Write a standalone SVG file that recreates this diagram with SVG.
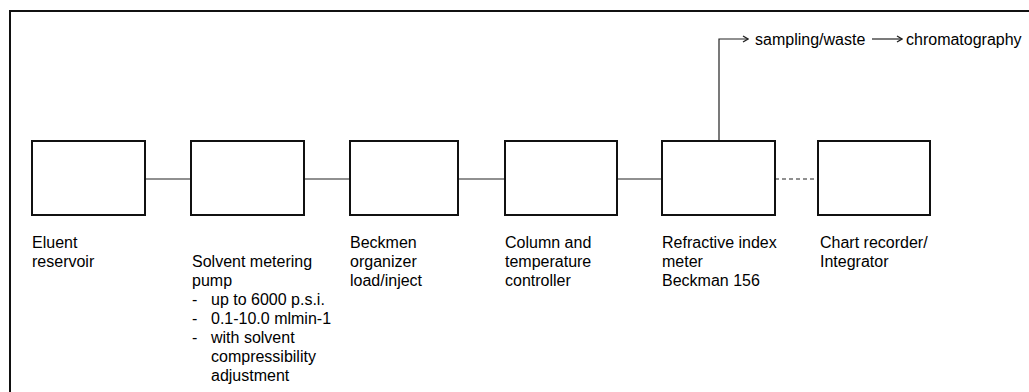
<svg xmlns="http://www.w3.org/2000/svg" width="1029" height="392" viewBox="0 0 1029 392">
<style>
.box{fill:none;stroke:#111;stroke-width:2}
.frame{fill:none;stroke:#111;stroke-width:2}
.con{fill:none;stroke:#222;stroke-width:1.2}
.dash{stroke-dasharray:4 3}
text{font-family:"Liberation Sans",Arial,sans-serif;font-size:16px;fill:#000}
</style>
<defs>
<marker id="ah" viewBox="0 0 8 8" refX="7" refY="4" markerWidth="8" markerHeight="8" markerUnits="userSpaceOnUse" orient="auto">
<path d="M2,1 L7,4 L2,7" fill="none" stroke="#222" stroke-width="1.3"/>
</marker>
</defs>
<rect width="1029" height="392" fill="#fff"/>
<path class="frame" d="M10,393 L10,11 L1030,11"/>
<g id="connectors">
<line class="con" x1="145" y1="179" x2="191" y2="179"/>
<line class="con" x1="304" y1="179" x2="350" y2="179"/>
<line class="con" x1="458" y1="179" x2="505" y2="179"/>
<line class="con" x1="617" y1="179" x2="662" y2="179"/>
<line class="con dash" x1="775" y1="179" x2="818" y2="179"/>
<path class="con" d="M719,141 L719,39 L748,39" marker-end="url(#ah)"/>
<line class="con" x1="872" y1="39" x2="902" y2="39" marker-end="url(#ah)"/>
</g>
<g id="eluent">
<rect class="box" x="32" y="141" width="113" height="74"/>
<text x="32" y="247.5">Eluent</text>
<text x="32" y="266.5">reservoir</text>
</g>
<g id="pump">
<rect class="box" x="191" y="141" width="113" height="74"/>
<text x="192" y="266.5">Solvent metering</text>
<text x="192" y="285.5">pump</text>
<text x="192" y="304.5">-</text><text x="211" y="304.5">up to 6000 p.s.i.</text>
<text x="192" y="323.5">-</text><text x="211" y="323.5">0.1-10.0 mlmin-1</text>
<text x="192" y="342.5">-</text><text x="211" y="342.5">with solvent</text>
<text x="211" y="361.5">compressibility</text>
<text x="211" y="380.5">adjustment</text>
</g>
<g id="organizer">
<rect class="box" x="350" y="141" width="108" height="74"/>
<text x="350" y="247.5">Beckmen</text>
<text x="350" y="266.5">organizer</text>
<text x="350" y="285.5">load/inject</text>
</g>
<g id="column">
<rect class="box" x="505" y="141" width="112" height="74"/>
<text x="505" y="247.5">Column and</text>
<text x="505" y="266.5">temperature</text>
<text x="505" y="285.5">controller</text>
</g>
<g id="ri-meter">
<rect class="box" x="662" y="141" width="113" height="74"/>
<text x="662" y="247.5">Refractive index</text>
<text x="662" y="266.5">meter</text>
<text x="662" y="285.5">Beckman 156</text>
</g>
<g id="recorder">
<rect class="box" x="818" y="141" width="112" height="74"/>
<text x="820" y="247.5">Chart recorder/</text>
<text x="820" y="266.5">Integrator</text>
</g>
<g id="sampling">
<text x="755" y="45">sampling/waste</text>
</g>
<g id="chromatography">
<text x="906" y="45">chromatography</text>
</g>
</svg>
